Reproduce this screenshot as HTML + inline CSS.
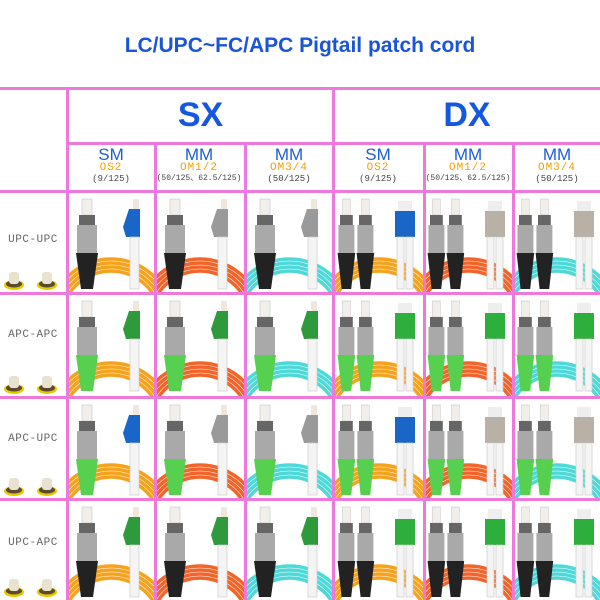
<!DOCTYPE html>
<html style="height:600px;overflow:hidden"><head><meta charset="utf-8"><style>
html,body{margin:0;padding:0;width:600px;height:600px;overflow:hidden;background:#fff;font-family:"Liberation Sans",sans-serif}
#w{position:relative;width:600px;height:600px;overflow:hidden}
.t{position:absolute;left:0;width:600px;text-align:center;top:34px;font-size:21px;font-weight:bold;color:#1a55d8}
.big{position:absolute;font-size:34px;font-weight:bold;color:#1558e0;text-align:center}
.hd{position:absolute;text-align:center;width:88px;top:146px}
.hd .a{font-size:17px;color:#1b5fd6;line-height:17px}
.hd .b{font-size:11px;color:#f5a000;font-family:"Liberation Mono",monospace;line-height:11px;letter-spacing:1px}
.hd .c{font-size:9px;color:#444;font-family:"Liberation Mono",monospace;line-height:10px;white-space:nowrap}
.rl{position:absolute;left:0;width:66px;text-align:center;font-family:"Liberation Mono",monospace;font-size:11px;color:#666;letter-spacing:0.5px}
svg{position:absolute;left:0;top:0;display:block}
</style></head><body><div id="w">
<div class="t">LC/UPC~FC/APC Pigtail patch cord</div>
<svg id="s" width="600" height="600"></svg>
<div class="big" style="left:67px;width:267px;top:96px">SX</div>
<div class="big" style="left:334px;width:266px;top:96px">DX</div>
<div class="hd" style="left:67px"><div class="a">SM</div><div class="b">OS2</div><div class="c">(9/125)</div></div>
<div class="hd" style="left:155px"><div class="a">MM</div><div class="b">OM1/2</div><div class="c" style="font-size:8px">(50/125、62.5/125)</div></div>
<div class="hd" style="left:245px"><div class="a">MM</div><div class="b">OM3/4</div><div class="c">(50/125)</div></div>
<div class="hd" style="left:334px"><div class="a">SM</div><div class="b">OS2</div><div class="c">(9/125)</div></div>
<div class="hd" style="left:424px"><div class="a">MM</div><div class="b">OM1/2</div><div class="c" style="font-size:8px">(50/125、62.5/125)</div></div>
<div class="hd" style="left:513px"><div class="a">MM</div><div class="b">OM3/4</div><div class="c">(50/125)</div></div>
<div class="rl" style="top:234px">UPC-UPC</div>
<div class="rl" style="top:329px">APC-APC</div>
<div class="rl" style="top:433px">APC-UPC</div>
<div class="rl" style="top:537px">UPC-APC</div>
</div>
<script>
var s=document.getElementById('s'),h='';
var X=[67,155,245,334,424,513,600],Y=[191,293,397,499,600];
var cab=['#f6a21c','#f2642a','#4fd8d8'];
var rows=[['#222','U'],['#57d04f','A'],['#57d04f','U'],['#222','A']];
function fc(x,y,boot){return '<rect x="'+(x+3)+'" y="'+(y+8)+'" width="10" height="16" fill="#f2eeea" stroke="#bbb" stroke-width=".5"/>'+
'<rect x="'+x+'" y="'+(y+24)+'" width="16" height="10" fill="#666"/>'+
'<rect x="'+(x-2)+'" y="'+(y+34)+'" width="20" height="28" fill="#a9a9a9"/>'+
'<polygon points="'+(x-3)+','+(y+62)+' '+(x+19)+','+(y+62)+' '+(x+14)+','+(y+98)+' '+(x+2)+','+(y+98)+'" fill="'+boot+'"/>';}
function lc(x,y,c){return '<rect x="'+(x+4)+'" y="'+(y+8)+'" width="6" height="10" fill="#f0e6dc"/>'+
'<polygon points="'+x+','+(y+18)+' '+(x+11)+','+(y+18)+' '+(x+11)+','+(y+46)+' '+(x-3)+','+(y+46)+' '+(x-6)+','+(y+36)+'" fill="'+c+'"/>'+
'<rect x="'+(x+1)+'" y="'+(y+46)+'" width="9" height="52" fill="#f4f4f4" stroke="#ccc" stroke-width=".7"/>';}
function fcs(x,y,boot){return '<g transform="translate('+x+','+y+') scale(0.8,1) translate('+(-x)+','+(-y)+')">'+fc(x,y,boot)+'</g>';}
for(var r=0;r<4;r++){var y=Y[r],h2=Y[r+1]-y;
 [[14],[47]].forEach(function(p){var cx=p[0],cy=y+h2-8;h+='<ellipse cx="'+cx+'" cy="'+cy+'" rx="10" ry="5" fill="#e8c800"/><ellipse cx="'+cx+'" cy="'+(cy-1)+'" rx="8" ry="3.5" fill="#5a4a30"/><rect x="'+(cx-5)+'" y="'+(cy-13)+'" width="10" height="12" rx="3" fill="#e9e2cf"/>';});
 for(var c=0;c<6;c++){var x=X[c],w=X[c+1]-x,m=c%3,dx=c>=3;
  h+='<clipPath id="k'+r+c+'"><rect x="'+x+'" y="'+y+'" width="'+w+'" height="'+h2+'"/></clipPath><g clip-path="url(#k'+r+c+')">';
  for(var i=0;i<4;i++)h+='<circle cx="'+(x+w/2)+'" cy="'+(y+h2+28)+'" r="'+(62-i*4)+'" fill="none" stroke="'+cab[m]+'" stroke-width="3.5"/>';
  var lcU=(r==0||r==2);
  var lcc=lcU?(m==0?'#1a66c8':'#9a9a9a'):'#2e9a3c';
  if(dx){lcc=lcU?(m==0?'#1a66c8':'#b9b1a6'):'#2eae3c';
   h+=fcs(x+6,y,rows[r][0])+fcs(x+25,y,rows[r][0]);
   h+='<rect x="'+(x+64)+'" y="'+(y+10)+'" width="14" height="10" fill="#eee"/><rect x="'+(x+61)+'" y="'+(y+20)+'" width="20" height="26" fill="'+lcc+'"/><rect x="'+(x+63)+'" y="'+(y+46)+'" width="7" height="52" fill="#f4f4f4" stroke="#ccc" stroke-width=".7"/><rect x="'+(x+72)+'" y="'+(y+46)+'" width="7" height="52" fill="#f4f4f4" stroke="#ccc" stroke-width=".7"/>';
  }else{h+=fc(x+12,y,rows[r][0])+lc(x+62,y,lcc);}
  h+='</g>';}}
var P='#ee78dc';
h+='<g fill="'+P+'">';
h+='<rect x="0" y="87" width="600" height="3"/><rect x="67" y="142" width="533" height="3"/>';
[191,293,397,499].forEach(function(v){h+='<rect x="0" y="'+(v-1)+'" width="600" height="3"/>';});
h+='<rect x="66" y="87" width="3" height="513"/><rect x="332" y="87" width="3" height="513"/>';
[155,245,424,513].forEach(function(v){h+='<rect x="'+(v-1)+'" y="142" width="3" height="458"/>';});
h+='</g>';
s.innerHTML=h;
</script>
</body></html>
